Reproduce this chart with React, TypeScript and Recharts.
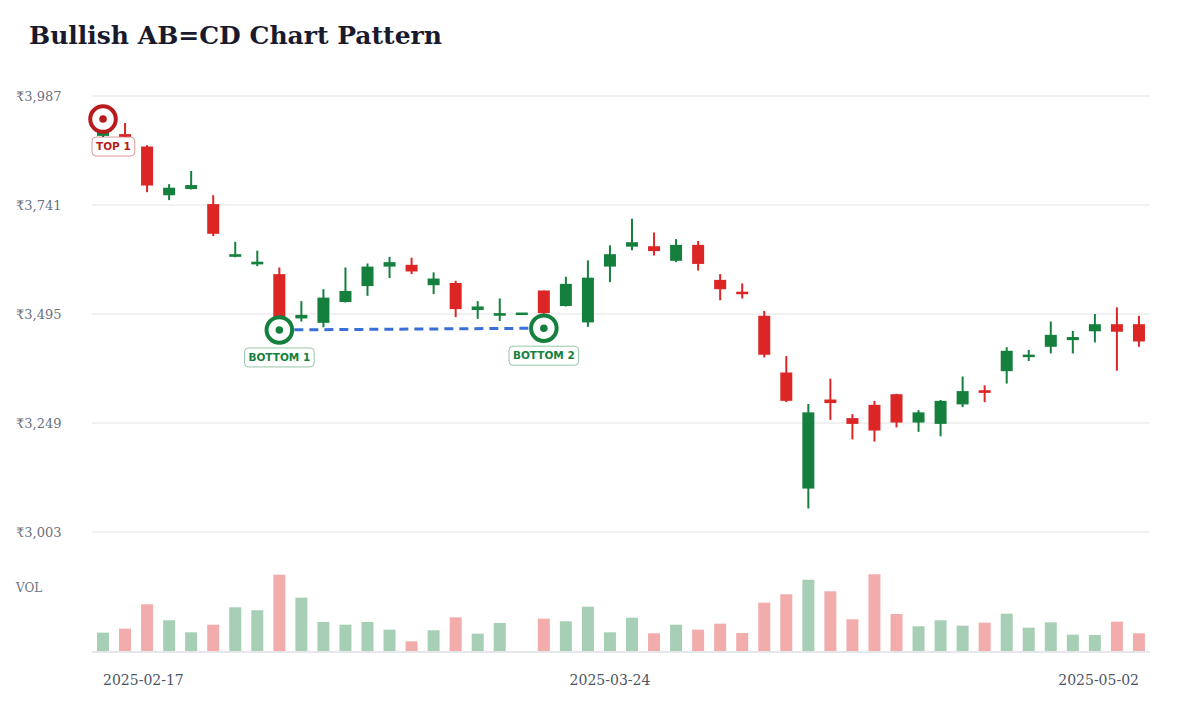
import React from "react";
import {
  ComposedChart,
  BarChart,
  Bar,
  Cell,
  XAxis,
  YAxis,
  CartesianGrid,
  ReferenceDot,
  ReferenceLine,
} from "recharts";

// trading days (NSE holidays skipped)
const DATES = [
  "2025-02-17", "2025-02-18", "2025-02-19", "2025-02-20", "2025-02-21",
  "2025-02-24", "2025-02-25", "2025-02-27", "2025-02-28",
  "2025-03-03", "2025-03-04", "2025-03-05", "2025-03-06", "2025-03-07",
  "2025-03-10", "2025-03-11", "2025-03-12", "2025-03-13",
  "2025-03-17", "2025-03-18", "2025-03-19", "2025-03-20", "2025-03-21",
  "2025-03-24", "2025-03-25", "2025-03-26", "2025-03-27", "2025-03-28",
  "2025-04-01", "2025-04-02", "2025-04-03", "2025-04-04",
  "2025-04-07", "2025-04-08", "2025-04-09", "2025-04-11",
  "2025-04-15", "2025-04-16", "2025-04-17",
  "2025-04-21", "2025-04-22", "2025-04-23", "2025-04-24", "2025-04-25",
  "2025-04-28", "2025-04-29", "2025-04-30",
  "2025-05-02",
];

const OPENS = [
  3897, 3901, 3873, 3763, 3777, 3743, 3624, 3607, 3585, 3485,
  3475, 3522, 3558, 3602, 3606, 3560, 3565, 3504, 3491, 3495,
  3548, 3513, 3476, 3602, 3647, 3648, 3615, 3651, 3572, 3545,
  3491, 3363, 3101, 3302, 3260, 3290, 3314, 3250, 3247, 3291,
  3323, 3366, 3398, 3421, 3436, 3456, 3472, 3472,
];
const HIGHS = [
  3935, 3926, 3876, 3788, 3818, 3763, 3658, 3638, 3600, 3524,
  3551, 3600, 3609, 3624, 3622, 3589, 3570, 3524, 3530, 3496,
  3548, 3579, 3616, 3650, 3710, 3679, 3664, 3660, 3585, 3564,
  3502, 3400, 3292, 3349, 3269, 3299, 3315, 3278, 3301, 3354,
  3334, 3420, 3414, 3478, 3457, 3495, 3510, 3491,
];
const LOWS = [
  3893, 3888, 3770, 3752, 3776, 3671, 3623, 3603, 3459, 3478,
  3465, 3521, 3536, 3576, 3585, 3540, 3488, 3484, 3479, 3495,
  3463, 3512, 3466, 3567, 3639, 3627, 3612, 3593, 3526, 3530,
  3397, 3296, 3056, 3256, 3212, 3207, 3239, 3229, 3219, 3285,
  3296, 3338, 3389, 3406, 3406, 3431, 3367, 3421,
];
const CLOSES = [
  3908, 3895, 3785, 3780, 3786, 3676, 3630, 3613, 3485, 3493,
  3532, 3547, 3602, 3612, 3591, 3575, 3506, 3512, 3497, 3496,
  3497, 3563, 3577, 3630, 3657, 3637, 3651, 3608, 3551, 3540,
  3403, 3299, 3273, 3294, 3247, 3232, 3250, 3273, 3299, 3321,
  3317, 3412, 3403, 3448, 3443, 3472, 3455, 3433,
];
// volume, thousands of shares
const VOLUMES = [
  483, 583, 1193, 793, 493, 683, 1118, 1043, 1933, 1358,
  750, 683, 750, 558, 268, 543, 868, 458, 725, 18,
  833, 768, 1133, 493, 858, 468, 683, 558, 708, 475,
  1233, 1443, 1808, 1518, 818, 1943, 950, 643, 793, 658,
  733, 958, 608, 743, 433, 425, 758, 468,
];

const PRICE_TICKS = [3003, 3249, 3495, 3741, 3987];
const DATE_TICKS = [DATES[0], DATES[23], DATES[DATES.length - 1]];

const MARKERS = [
  { index: 0, kind: "top", label: "TOP 1" },
  { index: 8, kind: "bottom", label: "BOTTOM 1" },
  { index: 20, kind: "bottom", label: "BOTTOM 2" },
];

const GREEN = "#15803d";
const RED = "#dc2626";
const RED_DARK = "#b91c1c";
const BLUE = "#3b6fd8";
const PLOT_LEFT = 92;

const data = DATES.map((date, i) => ({
  date,
  open: OPENS[i],
  high: HIGHS[i],
  low: LOWS[i],
  close: CLOSES[i],
  volume: VOLUMES[i],
}));

const fmtPrice = (v: number) => "₹" + v.toLocaleString("en-IN");

// rough DejaVu Sans Bold advance widths (em)
const charW = (c: string) =>
  c === " " ? 0.348 : c === "M" ? 0.995 : c === "O" ? 0.85 : c === "B" ? 0.762 : c === "P" ? 0.733 : 0.69;

const Candle = (props: any) => {
  const { x, y, width, height, payload } = props;
  if (!payload) return null;
  const { open, close, high, low } = payload;
  const top = Math.min(y, y + height);
  const span = Math.abs(height);
  const toPx = (v: number) => (high === low ? top : top + ((high - v) / (high - low)) * span);
  const color = close >= open ? GREEN : RED;
  const cx = x + width / 2;
  const bodyTop = toPx(Math.max(open, close));
  const bodyBot = toPx(Math.min(open, close));
  const bodyH = Math.max(bodyBot - bodyTop, 2.5);
  return (
    <g>
      <line x1={cx} x2={cx} y1={top} y2={top + span} stroke={color} strokeWidth={2} />
      <rect x={x} y={bodyTop - (bodyH - (bodyBot - bodyTop)) / 2} width={width} height={bodyH} fill={color} />
    </g>
  );
};

const Marker = ({ cx, cy, label, color }: any) => {
  if (cx == null || cy == null) return null;
  const fs = 10.5;
  const textW = label.split("").reduce((s: number, c: string) => s + charW(c) * fs, 0);
  const w = textW + 8;
  const h = 19;
  const bx = Math.max(cx - w / 2, PLOT_LEFT);
  const by = cy + 18;
  return (
    <g>
      <circle cx={cx} cy={cy} r={12.8} fill="#ffffff" stroke={color} strokeWidth={4} />
      <circle cx={cx} cy={cy} r={3.8} fill={color} />
      <rect x={bx} y={by} width={w} height={h} rx={4} fill="#ffffff" stroke={color} strokeOpacity={0.45} strokeWidth={1} />
      <text
        x={bx + w / 2}
        y={by + h / 2 + 3.8}
        textAnchor="middle"
        fontFamily="'DejaVu Sans', sans-serif"
        fontWeight={700}
        fontSize={fs}
        fill={color}
      >
        {label}
      </text>
    </g>
  );
};

const PriceTick = ({ y, payload }: any) => (
  <text x={16} y={y} dy={4.5} textAnchor="start" fontFamily="'DejaVu Serif', serif" fontSize={13} fill="#6b7280">
    {fmtPrice(payload.value)}
  </text>
);

const DateTick = ({ x, y, payload }: any) => {
  const v = payload.value;
  const anchor = v === DATES[0] ? "start" : v === DATES[DATES.length - 1] ? "end" : "middle";
  return (
    <text x={x} y={y} dy={25} textAnchor={anchor} fontFamily="'DejaVu Serif', serif" fontSize={14} fill="#4b5563">
      {v}
    </text>
  );
};

export default function App() {
  return (
    <div style={{ position: "absolute", left: 0, top: 0, width: 1200, height: 720, background: "#ffffff" }}>
      <svg width={1200} height={70} style={{ position: "absolute", left: 0, top: 0 }}>
        <text x={29} y={44} fontFamily="'DejaVu Serif', serif" fontWeight={700} fontSize={25} fill="#1a1a2e">
          Bullish AB=CD Chart Pattern
        </text>
      </svg>

      <div style={{ position: "absolute", left: 0, top: 0 }}>
        <ComposedChart width={1200} height={560} data={data} margin={{ top: 96, right: 50, bottom: 28, left: 0 }}>
          <CartesianGrid vertical={false} stroke="#ededed" strokeWidth={1.5} />
          <XAxis dataKey="date" type="category" hide />
          <YAxis
            width={92}
            domain={[3003, 3987]}
            ticks={PRICE_TICKS}
            allowDataOverflow
            axisLine={false}
            tickLine={false}
            tick={<PriceTick />}
          />
          <Bar
            dataKey={(d: any) => [d.low, d.high]}
            barSize={12}
            shape={<Candle />}
            isAnimationActive={false}
          />
          <ReferenceLine
            segment={[
              { x: DATES[8], y: LOWS[8] },
              { x: DATES[20], y: LOWS[20] },
            ]}
            stroke={BLUE}
            strokeWidth={3}
            strokeDasharray="9 6"
          />
          {MARKERS.map((m) => {
            const color = m.kind === "top" ? RED_DARK : GREEN;
            const yv = m.kind === "top" ? HIGHS[m.index] : LOWS[m.index];
            return (
              <ReferenceDot
                key={m.label}
                x={DATES[m.index]}
                y={yv}
                r={12}
                ifOverflow="visible"
                shape={(p: any) => <Marker {...p} label={m.label} color={color} />}
              />
            );
          })}
        </ComposedChart>
      </div>

      <div style={{ position: "absolute", left: 0, top: 560 }}>
        <BarChart width={1200} height={160} data={data} margin={{ top: 12, right: 50, bottom: 28, left: 92 }}>
          <XAxis
            dataKey="date"
            ticks={DATE_TICKS}
            interval={0}
            axisLine={{ stroke: "#e5e7eb", strokeWidth: 2 }}
            tickLine={false}
            height={40}
            tick={<DateTick />}
          />
          <YAxis hide domain={[0, 2000]} />
          <Bar dataKey="volume" barSize={12} isAnimationActive={false}>
            {data.map((d, i) => (
              <Cell key={i} fill={d.close >= d.open ? GREEN : RED} fillOpacity={0.38} />
            ))}
          </Bar>
        </BarChart>
      </div>

      <svg width={100} height={30} style={{ position: "absolute", left: 0, top: 575 }}>
        <text x={16} y={17} fontFamily="'DejaVu Serif', serif" fontSize={12} fill="#6b7280">
          VOL
        </text>
      </svg>
    </div>
  );
}
